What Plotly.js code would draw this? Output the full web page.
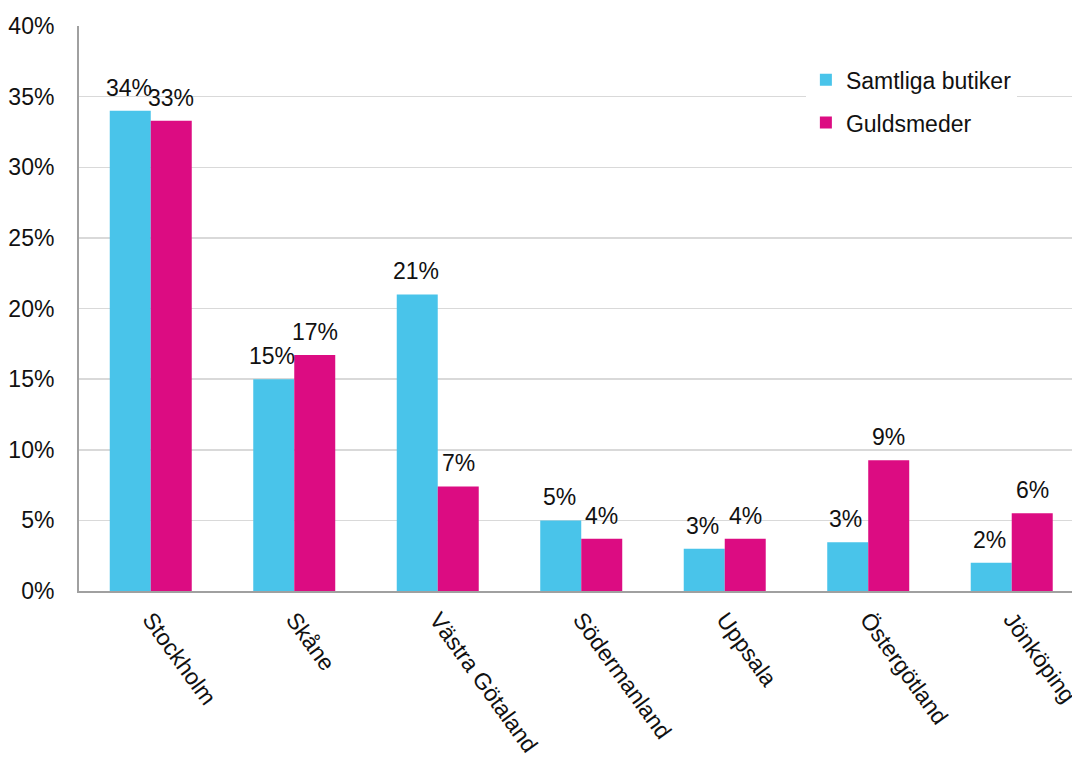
<!DOCTYPE html>
<html>
<head>
<meta charset="utf-8">
<script src="https://cdn.plot.ly/plotly-3.0.1.min.js"></script>
<style>html,body{margin:0;padding:0;background:#fff;}#chart{width:1072px;height:760px;}</style>
</head>
<body>
<div id="chart"></div>
<script>
const categories = ["Stockholm", "Skåne", "Västra Götaland", "Södermanland", "Uppsala", "Östergötland", "Jönköping"];
const seriesNames = ["Samtliga butiker", "Guldsmeder"];
const samtliga = [34.0, 15.0, 21.0, 5.0, 3.0, 3.46, 2.0];
const guldsmeder = [33.3, 16.7, 7.4, 3.7, 3.7, 9.25, 5.5];
const samtligaLabels = ["34%", "15%", "21%", "5%", "3%", "3%", "2%"];
const guldsmederLabels = ["33%", "17%", "7%", "4%", "4%", "9%", "6%"];
const yTicks = [0, 5, 10, 15, 20, 25, 30, 35, 40];
const yTickLabels = ["0%", "5%", "10%", "15%", "20%", "25%", "30%", "35%", "40%"];

const colors = ["#49C4EA", "#DC0C82"];
const font = "Liberation Sans, Arial, sans-serif";
const fs = 23;

const traces = [
  {type: "bar", name: seriesNames[0], x: categories, y: samtliga, marker: {color: colors[0]}, legendgroup: "a", hoverinfo: "none"},
  {type: "bar", name: seriesNames[1], x: categories, y: guldsmeder, marker: {color: colors[1]}, legendgroup: "b", hoverinfo: "none"}
];

const annotations = [];
const offsets = [-0.155, 0.143];
[[samtliga, samtligaLabels], [guldsmeder, guldsmederLabels]].forEach(([vals, labs], s) => {
  vals.forEach((v, i) => {
    annotations.push({
      x: i + offsets[s], y: v, xref: "x", yref: "y", text: labs[i], showarrow: false,
      yanchor: "bottom", yshift: 8, font: {family: font, size: fs, color: "#111"}
    });
  });
});

const layout = {
  width: 1072, height: 760,
  margin: {l: 79, r: 0, t: 26, b: 169},
  paper_bgcolor: "#fff", plot_bgcolor: "#fff",
  barmode: "group", bargap: 0.4286, bargroupgap: 0,
  font: {family: font, size: fs, color: "#111"},
  xaxis: {
    type: "category", range: [-0.5, 6.42], tickangle: 54,
    showline: true, linecolor: "#a0a0a0", linewidth: 2, ticks: "", showgrid: false,
    ticklabelstandoff: 4, tickfont: {family: font, size: fs, color: "#111"}, fixedrange: true
  },
  yaxis: {
    range: [0, 40], tickvals: yTicks, ticktext: yTickLabels,
    showline: true, linecolor: "#a0a0a0", linewidth: 2, ticks: "",
    gridcolor: "#d9d9d9", gridwidth: 1.5, zeroline: false,
    ticklabelstandoff: 18, tickfont: {family: font, size: fs, color: "#111"}, fixedrange: true
  },
  showlegend: true,
  legend: {
    x: 0.732, y: 0.943, xanchor: "left", yanchor: "top",
    bgcolor: "#fff", borderwidth: 0, tracegroupgap: 10,
    font: {family: font, size: fs, color: "#111"}, traceorder: "grouped"
  },
  annotations: annotations
};

Plotly.newPlot("chart", traces, layout, {displayModeBar: false, staticPlot: true});
</script>
</body>
</html>
